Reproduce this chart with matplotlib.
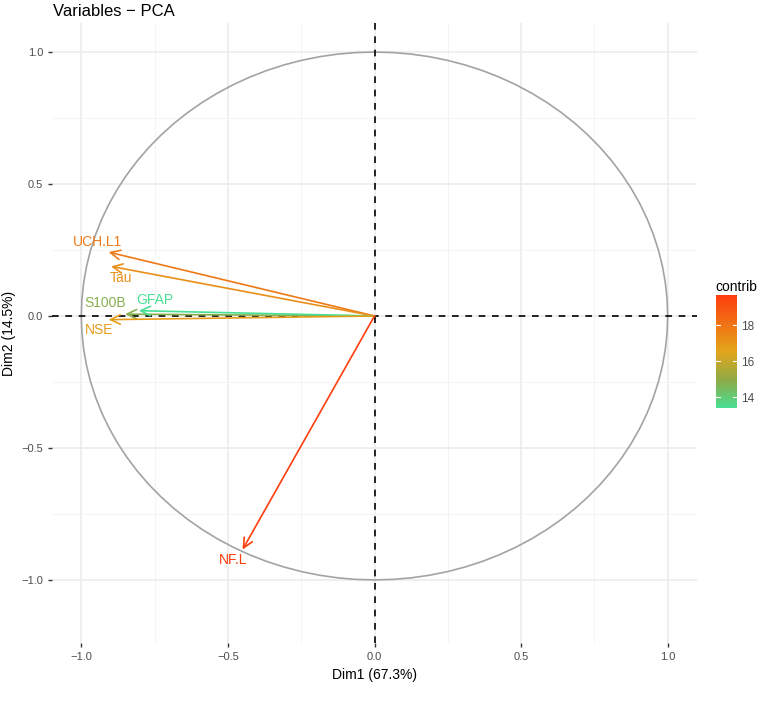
import numpy as np
import matplotlib
matplotlib.use("Agg")
import matplotlib.pyplot as plt
from matplotlib.colors import LinearSegmentedColormap, Normalize
from matplotlib.ticker import MultipleLocator

plt.rcParams["font.family"] = ["Liberation Sans", "DejaVu Sans"]

# -------- Data
variables = ["UCH.L1", "Tau", "S100B", "GFAP", "NSE", "NF.L"]
dim1 = [-0.907, -0.899, -0.851, -0.804, -0.907, -0.450]
dim2 = [0.242, 0.188, 0.007, 0.020, -0.014, -0.885]
contrib = [17.9, 17.2, 14.8, 13.4, 16.8, 19.7]

# label offsets from arrow tip, in points (mimics ggrepel placement)
label_dx = [-8, 7, -14, 11.5, -7, -7]
label_dy = [7.5, -8.5, 8, 7.5, -7.5, -7.5]

x_label = "Dim1 (67.3%)"
y_label = "Dim2 (14.5%)"
title = "Variables \u2212 PCA"

cmap = LinearSegmentedColormap.from_list(
    "contrib",
    [(0.0, "#48DF93"), (0.25, "#8FAA45"), (0.5, "#E3A51C"), (1.0, "#FF3D0D")],
)
norm = Normalize(vmin=min(contrib), vmax=max(contrib))

W, H = 760, 702
fig = plt.figure(figsize=(W / 100, H / 100), dpi=100)
ax = fig.add_axes([52 / W, 1 - 643 / H, 645 / W, 620 / H])

ax.set_xlim(-1.1, 1.1)
ax.set_ylim(-1.239, 1.11)

# grid like theme_minimal
ax.xaxis.set_major_locator(MultipleLocator(0.5))
ax.yaxis.set_major_locator(MultipleLocator(0.5))
ax.xaxis.set_minor_locator(MultipleLocator(0.25))
ax.yaxis.set_minor_locator(MultipleLocator(0.25))
ax.grid(which="major", color="#EBEBEB", lw=1.1)
ax.grid(which="minor", color="#F3F3F3", lw=0.6)
ax.set_axisbelow(True)
for s in ax.spines.values():
    s.set_visible(False)
ax.tick_params(which="major", length=3, width=1, color="#333333",
               labelcolor="#4D4D4D", labelsize=8)
ax.tick_params(which="minor", length=0)
ax.xaxis.set_major_formatter(lambda v, p: f"{v:.1f}".replace("-", "\u2212"))
ax.yaxis.set_major_formatter(lambda v, p: f"{v:.1f}".replace("-", "\u2212"))

# correlation circle
t = np.linspace(0, 2 * np.pi, 101)
ax.plot(np.cos(t), np.sin(t), color="#A3A3A3", lw=1.2, zorder=2)

ax.axhline(0, color="black", lw=1.2, ls=(0, (4, 4)), zorder=3)
ax.axvline(0, color="black", lw=1.2, ls=(0, (4, 4)), zorder=3)

for name, x, y, c, dx, dy in zip(variables, dim1, dim2, contrib, label_dx, label_dy):
    col = cmap(norm(c))
    ax.annotate("", xy=(x, y), xytext=(0, 0),
                arrowprops=dict(arrowstyle="->,head_length=0.5,head_width=0.24",
                                mutation_scale=14, color=col, lw=1.2,
                                shrinkA=0, shrinkB=0), zorder=4)
    ax.annotate(name, xy=(x, y), xytext=(dx, dy), textcoords="offset points",
                ha="center", va="center", color=col, fontsize=10, zorder=5)

ax.set_xlabel(x_label, fontsize=10, labelpad=4)
ax.set_ylabel(y_label, fontsize=10, labelpad=4)
fig.text(53 / W, 1 - 12 / H, title, fontsize=12, ha="left", va="center")

# colour bar
cax = fig.add_axes([716 / W, 1 - 408 / H, 21 / W, 113 / H])
sm = matplotlib.cm.ScalarMappable(norm=norm, cmap=cmap)
cb = fig.colorbar(sm, cax=cax, ticks=[14, 16, 18])
cb.outline.set_visible(False)
cax.tick_params(length=0, labelsize=8.5, labelcolor="#4D4D4D", pad=3)
for v in [14, 16, 18]:
    cax.plot([0, 0.2], [v, v], color="white", lw=0.8, transform=cax.get_yaxis_transform())
    cax.plot([0.8, 1.0], [v, v], color="white", lw=0.8, transform=cax.get_yaxis_transform())
fig.text(715 / W, 1 - 287 / H, "contrib", fontsize=10, ha="left", va="center")

fig.savefig("out.png", dpi=100, facecolor="white")
